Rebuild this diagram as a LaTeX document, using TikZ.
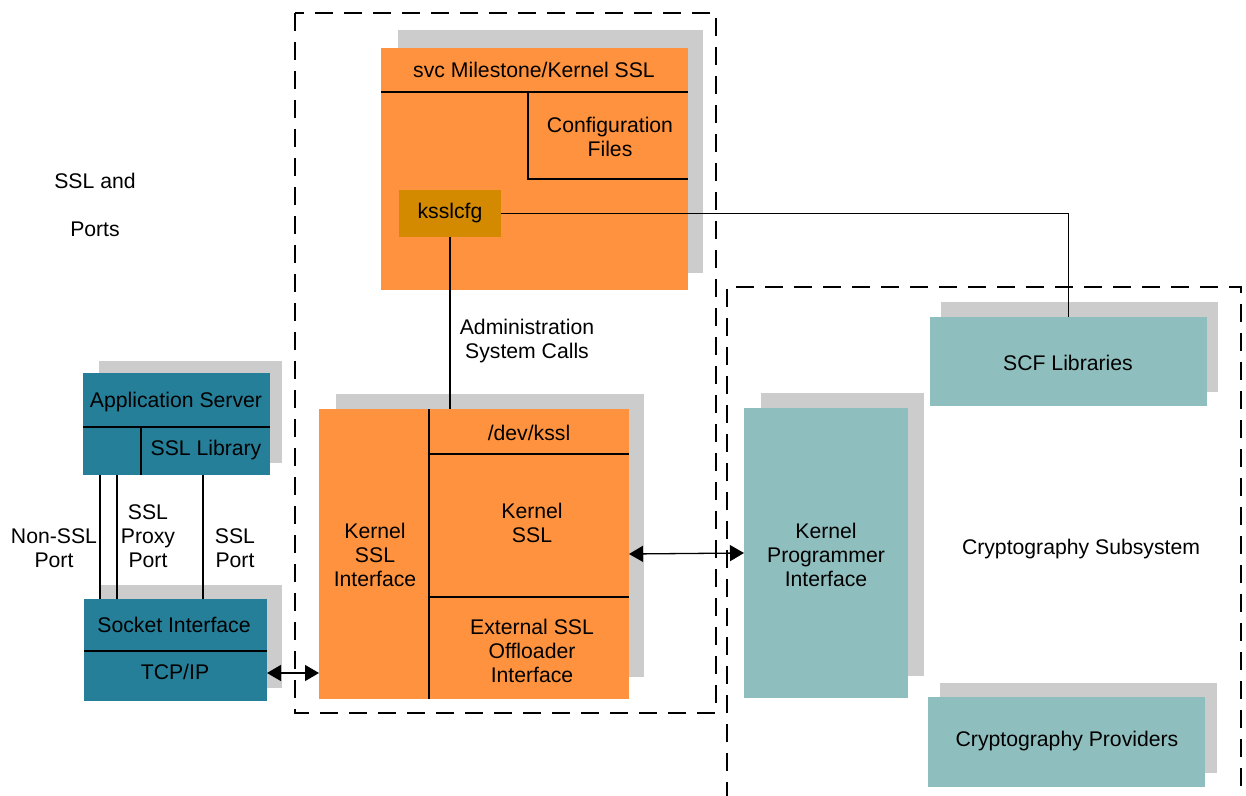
\documentclass[tikz,border=0pt]{standalone}
\usepackage{fontspec}
\setmainfont{Liberation Sans}
\usetikzlibrary{fit,arrows.meta}
\definecolor{orangebox}{RGB}{255,146,62}
\definecolor{cfgbox}{RGB}{212,138,0}
\definecolor{darkteal}{RGB}{38,127,153}
\definecolor{lightteal}{RGB}{143,190,190}
\definecolor{shadowgray}{RGB}{204,204,204}
\begin{document}
\begin{tikzpicture}[x=0.5pt,y=-0.5pt,
  font=\fontsize{10.6}{12}\selectfont,
  panel/.style={inner sep=0pt, outer sep=0pt, draw=none},
  shadowbox/.style={panel, fill=shadowgray},
  orangepanel/.style={panel, fill=orangebox},
  cfgpanel/.style={panel, fill=cfgbox},
  netpanel/.style={panel, fill=darkteal},
  cryptopanel/.style={panel, fill=lightteal},
  region/.style={draw, line width=0.65pt, dash pattern=on 9pt off 5.5pt},
  rule/.style={line width=0.65pt},
  link/.style={line width=0.65pt},
  biarrow/.style={line width=0.65pt,
    {Triangle[length=7pt,width=8pt]}-{Triangle[length=7pt,width=8pt]}},
  txt/.style={align=center, inner sep=0pt}
]
\useasboundingbox (0,0) rectangle (1246,796);

% dashed regions: kernel side and cryptography subsystem
\draw[region] (295,13) rectangle (716,713);
\draw[region] (727,800) -- (727,287) -- (1241,287) -- (1241,800);

% service milestone panel
\node[shadowbox, fit={(398,30) (703,273)}] (svcshadow) {};
\node[orangepanel, fit={(381,48) (688,290)}] (svc) {};
\draw[rule] (381,92) -- (688,92);
\draw[rule] (528,92) -- (528,179) -- (688,179);
\node[txt] (svchdr) at (534,70) {svc Milestone/Kernel SSL};
\node[txt] (conffiles) at (610,137) {Configuration\\Files};
\node[cfgpanel, fit={(399,190) (501,237)}] (cfg) {};
\node[txt] (cfgtxt) at (450,213) {ksslcfg};

% kernel SSL panel
\node[shadowbox, fit={(336,394) (644,677)}] (kshadow) {};
\node[orangepanel, fit={(319,409) (629,699)}] (kbox) {};
\draw[rule] (429,409) -- (429,699);
\draw[rule] (429,454) -- (629,454);
\draw[rule] (429,597) -- (629,597);
\node[txt] (devkssl) at (529,433) {/dev/kssl};
\node[txt] (kssl) at (532,523) {Kernel\\SSL};
\node[txt] (extssl) at (532,651) {External SSL\\Offloader\\Interface};
\node[txt] (ksslif) at (375,555) {Kernel\\SSL\\Interface};

\node[txt] (admin) at (527,341) {Administration\\System Calls};

% application side
\node[txt] (sslports) at (95,205) {SSL and\\[12pt]Ports};
\node[shadowbox, fit={(99,361) (282,463)}] (appshadow) {};
\node[netpanel, fit={(83,373) (270,475)}] (app) {};
\draw[rule] (83,427) -- (270,427);
\draw[rule] (141,427) -- (141,475);
\node[txt] (appsrv) at (176,402) {Application Server};
\node[txt] (ssllib) at (206,450) {SSL Library};

\node[shadowbox, fit={(99,585) (282,688)}] (sockshadow) {};
\node[netpanel, fit={(84,599) (267,701)}] (sock) {};
\draw[rule] (84,651) -- (267,651);
\node[txt] (sockif) at (174,625) {Socket Interface};
\node[panel, fit={(84,651) (267,701)}] (tcp) {};
\node[txt] (tcptxt) at (175,672) {TCP/IP};

\node[txt] (nonssl) at (54,548) {Non-SSL\\Port};
\node[txt] (proxy) at (148,536) {SSL\\Proxy\\Port};
\node[txt] (sslport) at (235,548) {SSL\\Port};

% cryptography subsystem
\node[shadowbox, fit={(761,393) (924,676)}] (kpishadow) {};
\node[cryptopanel, fit={(744,408) (908,698)}] (kpi) {};
\node[txt] (kpitxt) at (826,555) {Kernel\\Programmer\\Interface};
\node[shadowbox, fit={(941,302) (1218,392)}] (scfshadow) {};
\node[cryptopanel, fit={(930,317) (1207,406)}] (scf) {};
\node[txt] (scftxt) at (1068,363) {SCF Libraries};
\node[shadowbox, fit={(940,683) (1217,773)}] (provshadow) {};
\node[cryptopanel, fit={(928,697) (1205,787)}] (prov) {};
\node[txt] (provtxt) at (1067,741) {Cryptography Providers};
\node[txt] (cryptosub) at (1081,549) {Cryptography Subsystem};

% connectors
\draw[link] (cfg.east) -| (scf.north);
\draw[link] (cfg.south) -- (cfg.south |- kbox.north);
\draw[link] ([xshift=8.5pt]app.south west) -- ([xshift=8.5pt]app.south west |- sock.north);
\draw[link] ([xshift=17pt]app.south west) -- ([xshift=17pt]app.south west |- sock.north);
\draw[link] ([xshift=60pt]app.south west) -- ([xshift=60pt]app.south west |- sock.north);
\draw[biarrow] (kbox.east) -- (kpi.west);
\draw[biarrow] ([yshift=1.5pt]tcp.east) -- ([yshift=1.5pt]tcp.east -| kbox.west);
\end{tikzpicture}
\end{document}
